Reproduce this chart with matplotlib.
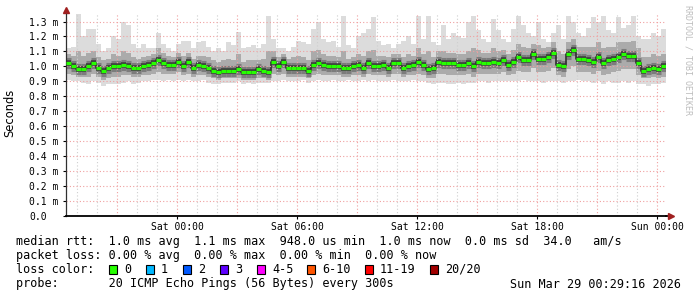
import numpy as np
import matplotlib
matplotlib.use("Agg")
import matplotlib.pyplot as plt
from matplotlib.patches import Rectangle

# ---------------- data (values in hundredths of a millisecond) ----------------
start_hour = -5.55          # hours relative to Sat 00:00 (left edge of the graph)
step_hours = 0.25           # one value per 15 minutes

median = [102,100,98,98,100,102,99,97,99,100,
          100,101,100,99,99,100,101,102,104,102,
          101,101,103,100,103,99,101,100,99,97,
          96,97,97,97,98,96,96,96,98,97,
          96,103,100,103,99,99,99,99,97,101,
          102,101,100,100,100,99,99,100,101,99,
          102,100,100,101,99,102,102,99,100,101,
          103,101,98,99,103,102,102,102,101,101,
          102,100,103,102,102,103,102,104,101,103,
          106,104,104,108,105,105,106,109,101,100,
          108,111,105,105,104,103,106,102,104,105,
          106,108,107,107,102,97,98,99,98,100]

smoke_max = [112,113,135,120,125,125,115,110,112,120,
             118,130,128,115,112,115,112,112,122,115,
             112,110,115,117,117,112,116,117,113,110,
             112,110,116,114,123,112,113,114,112,115,
             134,118,112,112,110,113,117,116,115,125,
             130,118,116,117,113,134,114,112,120,122,
             125,133,117,114,115,112,115,117,120,115,
             134,118,134,116,114,128,118,122,120,119,
             130,134,124,118,116,132,124,118,116,125,
             134,128,122,120,130,118,116,122,128,118,
             134,130,122,120,126,133,130,134,124,122,
             133,126,128,134,120,118,118,122,120,125]

smoke_min = [91,90,90,89,88,90,89,87,88,88,
             88,89,90,88,89,90,90,91,91,90,
             91,90,91,90,91,90,90,91,89,88,
             88,89,89,89,90,88,89,88,89,89,
             89,90,90,91,90,90,90,91,89,90,
             91,90,90,91,90,90,91,90,90,91,
             90,91,90,90,90,91,90,90,90,91,
             90,90,89,88,89,89,88,88,89,88,
             89,89,90,90,89,90,90,90,90,90,
             90,91,90,90,90,89,90,90,90,89,
             90,90,91,90,90,89,90,88,90,89,
             89,90,89,90,88,88,87,88,88,89]

smoke_mid_low = [95,94,93,93,93,95,93,91,92,93,
                 93,94,94,93,93,94,94,95,96,95,
                 95,95,96,94,95,93,94,94,93,92,
                 91,92,92,92,92,91,91,91,92,92,
                 91,95,94,95,93,93,93,93,92,94,
                 95,94,94,94,94,93,93,94,94,93,
                 95,94,94,94,93,95,95,93,94,94,
                 95,94,92,92,95,95,94,94,94,94,
                 95,93,95,95,95,95,95,96,94,95,
                 97,96,96,99,96,96,97,99,94,93,
                 98,100,96,96,96,95,97,94,95,96,
                 97,98,98,98,94,92,92,93,92,93]

smoke_mid_high = [108,107,110,107,109,110,106,104,105,108,
                  107,110,109,106,105,106,107,108,112,109,
                  107,106,109,107,109,105,107,107,106,104,
                  103,104,105,104,108,103,104,104,104,105,
                  110,110,106,108,105,106,107,106,104,110,
                  111,108,107,107,106,110,105,106,108,107,
                  110,111,107,107,106,108,108,106,108,107,
                  112,108,110,106,110,110,109,109,108,108,
                  110,112,111,109,109,112,110,111,108,111,
                  115,113,112,115,114,112,113,116,110,108,
                  116,118,113,113,113,113,116,112,113,113,
                  116,116,116,117,112,106,106,108,107,108]

ytick_values = [0.0,0.1,0.2,0.3,0.4,0.5,0.6,0.7,0.8,0.9,1.0,1.1,1.2,1.3]
ytick_labels = ["0.0","0.1 m","0.2 m","0.3 m","0.4 m","0.5 m","0.6 m","0.7 m",
                "0.8 m","0.9 m","1.0 m","1.1 m","1.2 m","1.3 m"]
xtick_hours = [0, 6, 12, 18, 24]
xtick_labels = ["Sat 00:00", "Sat 06:00", "Sat 12:00", "Sat 18:00", "Sun 00:00"]

loss_labels = ["0", "1", "2", "3", "4-5", "6-10", "11-19", "20/20"]
loss_colors = ["#26ff00", "#00b8ff", "#0059ff", "#5e00ff", "#ff00fe", "#ff5500", "#ff0000", "#a10000"]

rtt_line = "median rtt:  1.0 ms avg  1.1 ms max  948.0 us min  1.0 ms now  0.0 ms sd  34.0   am/s"
loss_line = "packet loss: 0.00 % avg  0.00 % max  0.00 % min  0.00 % now"
probe_line = "probe:       20 ICMP Echo Pings (56 Bytes) every 300s"
stamp = "Sun Mar 29 00:29:16 2026"

# ---------------- figure ----------------
W, H = 697, 297
fig = plt.figure(figsize=(W / 100, H / 100), dpi=100)
fig.patch.set_facecolor("white")

ax_left, ax_right, ax_bottom, ax_top = 66, 666, 215.5, 13.5
ax = fig.add_axes([ax_left / W, (H - ax_bottom) / H, (ax_right - ax_left) / W, (ax_bottom - ax_top) / H])
ymax = (ax_bottom - ax_top) / 149.2
n = len(median)
t = start_hour + step_hours * np.arange(n + 1)

def ext(a):
    a = np.asarray(a, float) / 100.0
    return np.append(a, a[-1])

med = ext(median)
medv = np.asarray(median, float) / 100.0
ax.fill_between(t, ext(smoke_min), ext(smoke_max), step="post", color="#dcdcdc", lw=0, zorder=1)
ax.fill_between(t, ext(smoke_mid_low), ext(smoke_mid_high), step="post", color="#ababab", lw=0, zorder=1.1)
ax.hlines(medv, t[:-1], t[1:], color="#7c7c7c", lw=8, zorder=1.2)
ax.hlines(medv, t[:-1], t[1:], color="#3c3c3c", lw=4, zorder=1.3)
ax.step(t, med, where="post", color="#303030", lw=1.2, zorder=1.4)

# grid
x0, x1 = start_hour, start_hour + step_hours * n
for h in range(-5, 25):
    if h % 3 == 0:
        ax.axvline(h, color="#f0a0a0", lw=0.8, ls=(0, (1, 2)), zorder=2)
    else:
        ax.axvline(h, color="#cfcfcf", lw=0.8, ls=(0, (1, 2)), zorder=2)
for v in ytick_values[1:]:
    ax.axhline(v, color="#f0a0a0", lw=0.8, ls=(0, (1, 2)), zorder=2)

ax.hlines(medv, t[:-1], t[1:], color="#26ff00", lw=2.3, zorder=3)

ax.set_xlim(x0, x1)
ax.set_ylim(0, ymax)
for s in ["top", "right"]:
    ax.spines[s].set_visible(False)
ax.spines["left"].set_color("#303030")
ax.spines["bottom"].set_color("black")
ax.spines["left"].set_linewidth(0.9)
ax.spines["bottom"].set_linewidth(1.3)

ax.set_yticks(ytick_values)
ax.set_yticklabels(ytick_labels, family="DejaVu Sans Mono", fontsize=7)
for lab in ax.get_yticklabels():
    lab.set_ha("left")
ax.tick_params(axis="y", length=2.5, width=0.8, pad=24, colors="black")
ax.set_xticks(xtick_hours)
ax.set_xticklabels(xtick_labels, family="DejaVu Sans Mono", fontsize=7)
ax.tick_params(axis="x", length=2, width=0.8, pad=3)

# axis arrows
ax.plot([1, 1.009], [0, 0], transform=ax.transAxes, color="black", lw=1.3, clip_on=False)
ax.plot([1.009], [0], transform=ax.transAxes, marker=">", color="#a02020", ms=4, clip_on=False)
ax.plot([0], [1.015], transform=ax.transAxes, marker="^", color="#a02020", ms=4, clip_on=False)

fig.text(10 / W, 1 - 113 / H, "Seconds", rotation=90, ha="center", va="center",
         fontsize=8.3, family="DejaVu Sans")
fig.text(688 / W, 1 - 5 / H, "RRDTOOL / TOBI OETIKER", rotation=270, ha="center", va="top",
         fontsize=6, family="DejaVu Sans Mono", color="#bdbdbd")

mono = dict(family="DejaVu Sans Mono", fontsize=8.5, va="center", ha="left")
fig.text(16 / W, 1 - 241 / H, rtt_line, **mono)
fig.text(16 / W, 1 - 255.5 / H, loss_line, **mono)
fig.text(16 / W, 1 - 269.5 / H, "loss color:", **mono)
fig.text(16 / W, 1 - 284 / H, probe_line, **mono)
fig.text(681 / W, 1 - 284 / H, stamp, family="DejaVu Sans Mono", fontsize=8.5, va="center", ha="right")

sq_x = [109, 146, 183, 220, 257, 307, 365, 430]
for xs, lab, col in zip(sq_x, loss_labels, loss_colors):
    fig.patches.append(Rectangle(((xs) / W, 1 - 274 / H), 8 / W, 9 / H, transform=fig.transFigure,
                                 facecolor=col, edgecolor="black", lw=0.8))
    fig.text((xs + 15) / W, 1 - 269.5 / H, lab, **mono)

fig.savefig("out.png", dpi=100, facecolor="white")
